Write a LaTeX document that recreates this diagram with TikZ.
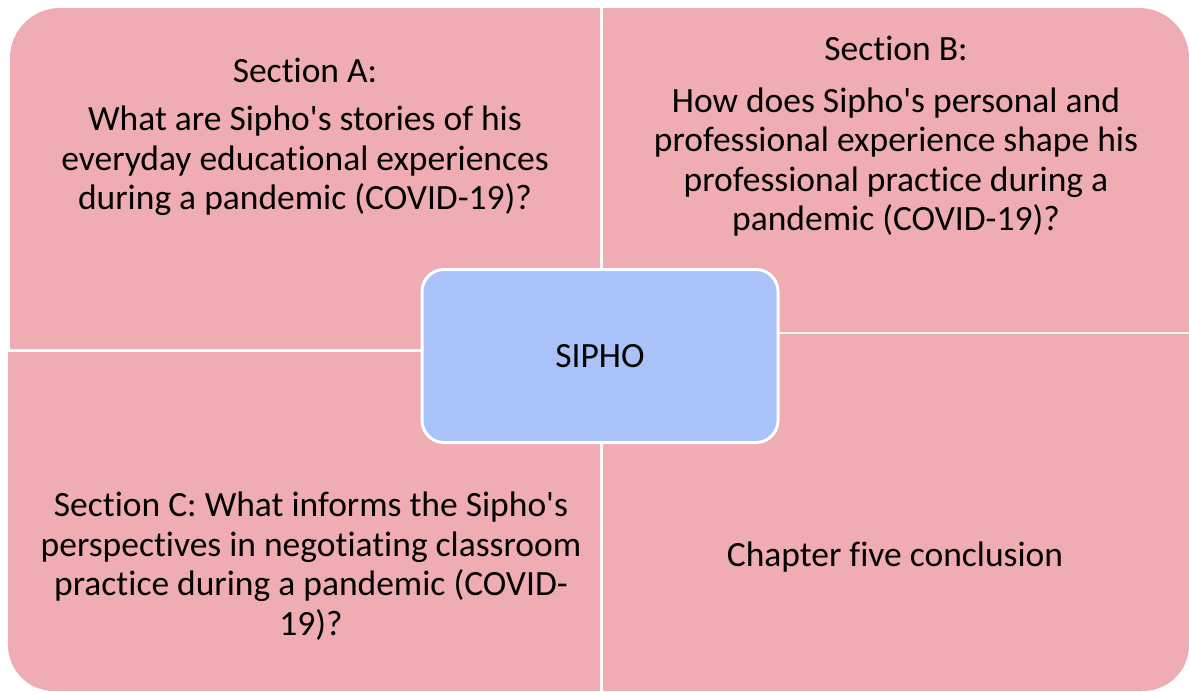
\documentclass[tikz,border=0pt]{standalone}
\usepackage{fontspec}
\setmainfont{Carlito}[Ligatures={TeXOff,NoCommon}]
\definecolor{quadpink}{HTML}{EFADB3}
\definecolor{centerblue}{HTML}{A9C2FA}
\tikzset{
  quad/.style={fill=quadpink, draw=none},
  qtext/.style={align=center, font=\fontsize{35.5}{39.5}\selectfont, text=black, inner sep=0pt},
  centerbox/.style={fill=centerblue, draw=white, line width=3pt, rounded corners=22pt,
    minimum width=356pt, minimum height=173pt, inner sep=0pt,
    font=\fontsize{35.5}{40}\selectfont}
}
\begin{document}
\begin{tikzpicture}[x=1pt,y=-1pt]
\useasboundingbox[fill=white] (0,0) rectangle (1189,691);
% quadrants
\path[quad] (10,349) [rounded corners=50pt] -- (10,8) [sharp corners] -- (600,8) -- (600,349) -- cycle;
\path[quad] (603,8) [rounded corners=50pt] -- (1189,8) [sharp corners] -- (1189,332) -- (603,332) -- cycle;
\path[quad] (600,352) -- (8,352) [rounded corners=46pt] -- (8,691) [sharp corners] -- (600,691) -- cycle;
\path[quad] (603,334) -- (1189,334) [rounded corners=46pt] -- (1189,691) [sharp corners] -- (603,691) -- cycle;
% texts
\node[qtext] (secA) at (305,70) {Section A:};
\node[qtext] (qA) at (305,161) {What are Sipho's stories of his\\everyday educational experiences\\during a pandemic (COVID-19)?};
\node[qtext] (secB) at (896,48) {Section B:};
\node[qtext] (qB) at (896,162) {How does Sipho's personal and\\professional experience shape his\\professional practice during a\\pandemic (COVID-19)?};
\node[qtext] (qC) at (311,566) {Section C: What informs the Sipho's\\perspectives in negotiating classroom\\practice during a pandemic (COVID-\\19)?};
\node[qtext] (qD) at (895,557) {Chapter five conclusion};
% center
\node[centerbox] (sipho) at (600,356) {SIPHO};
\end{tikzpicture}
\end{document}
